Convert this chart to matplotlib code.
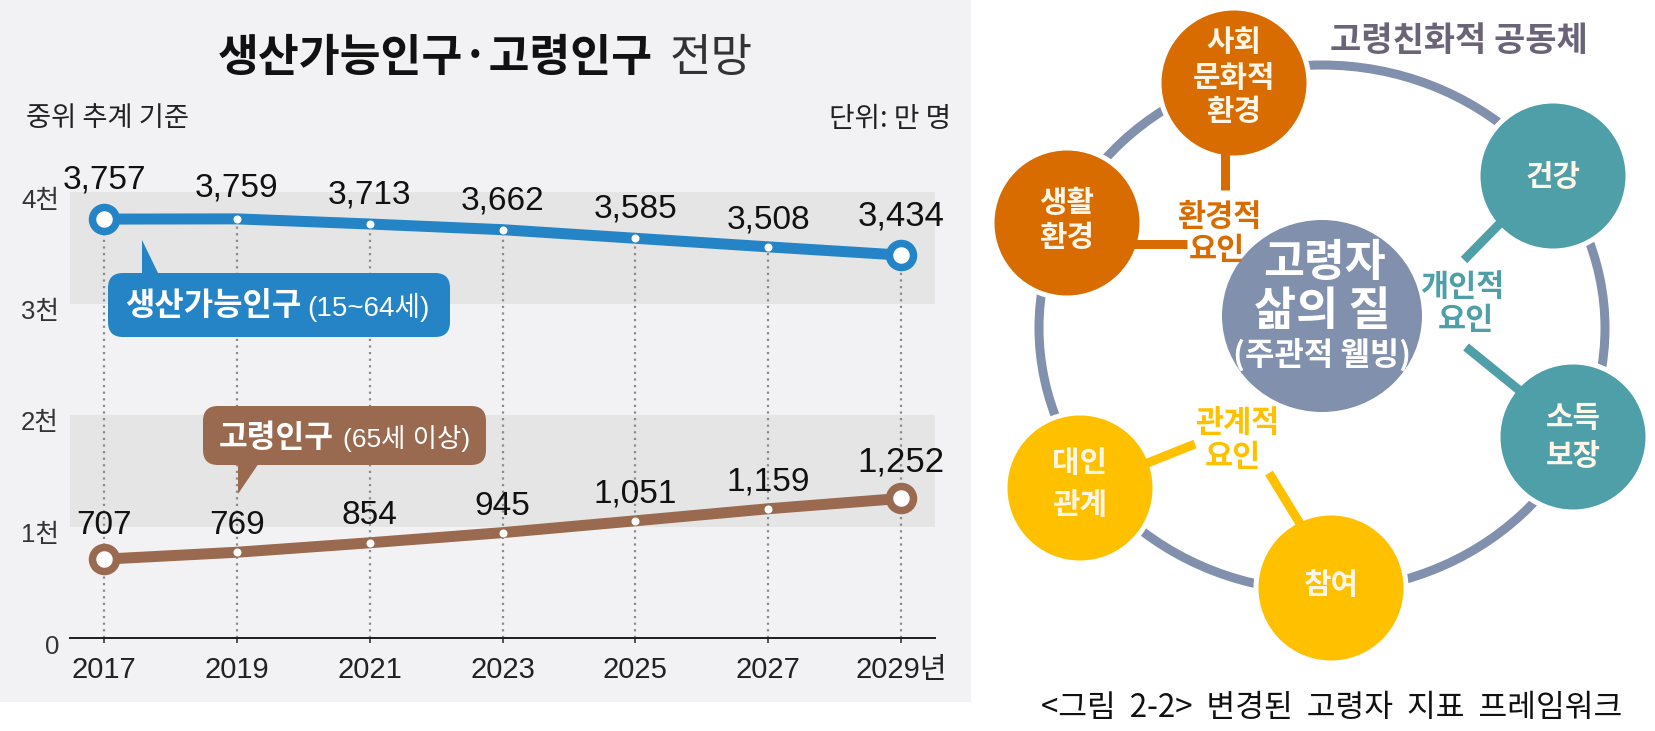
import matplotlib
matplotlib.use('Agg')
import matplotlib.pyplot as plt
from matplotlib.patches import Rectangle, FancyBboxPatch, Polygon, Ellipse
from matplotlib.transforms import ScaledTranslation

KR = 'Noto Sans CJK KR'
plt.rcParams['font.family'] = [KR, 'DejaVu Sans']
NUM = ['Liberation Sans', KR]

years = [2017, 2019, 2021, 2023, 2025, 2027, 2029]
working_age = [3757, 3759, 3713, 3662, 3585, 3508, 3434]
elderly = [707, 769, 854, 945, 1051, 1159, 1252]
x_labels = ['2017', '2019', '2021', '2023', '2025', '2027', '2029년']
y_ticks = [0, 1000, 2000, 3000, 4000]
y_labels = ['0', '1천', '2천', '3천', '4천']

BLUE = '#2484c6'
BROWN = '#9a6a50'
PANEL = '#f2f2f4'
BAND = '#e5e5e5'
RING = '#8090ad'
ORANGE = '#d96c00'
TEAL = '#4f9fa8'
YELLOW = '#ffc000'

W, H = 1656, 731


def pt(px):
    return px * 0.72


fig = plt.figure(figsize=(W / 100, H / 100), dpi=100, facecolor='white')

# background panel of the left chart
bg = fig.add_axes([0, 0, 1, 1], zorder=0)
bg.set_xlim(0, W)
bg.set_ylim(H, 0)
bg.axis('off')
bg.add_patch(Rectangle((0, 0), 971, 702, fc=PANEL, ec='none'))

# line chart, axes placed on the pixel box of the original
ax = fig.add_axes([70 / W, 1 - 638 / H, 865 / W, 446 / H], zorder=1)
ax.patch.set_alpha(0)
ax.set_xlim(2017 - 34 / 66.4, 2029 + 34 / 66.4)
ax.set_ylim(0, 4000)
for s in ['top', 'left', 'right']:
    ax.spines[s].set_visible(False)
ax.spines['bottom'].set_linewidth(pt(2))
ax.spines['bottom'].set_color('#222222')
ax.axhspan(3000, 4000, color=BAND, lw=0, zorder=0)
ax.axhspan(1000, 2000, color=BAND, lw=0, zorder=0)
ax.vlines(years, 0, working_age, color='#8a8a8a', lw=pt(2.2), linestyles=(0, (1, 2)), zorder=1)

ax.plot(years, working_age, color=BLUE, lw=pt(11), solid_capstyle='round', zorder=2)
ax.plot(years, elderly, color=BROWN, lw=pt(11), solid_capstyle='round', zorder=2)
for series, col in [(working_age, BLUE), (elderly, BROWN)]:
    ax.plot(years[1:-1], series[1:-1], 'o', ms=pt(8), mfc='white', mec='none', zorder=3)
    ax.plot([years[0], years[-1]], [series[0], series[-1]], 'o', ms=pt(24), mfc='white',
            mec=col, mew=pt(7.5), zorder=3)

up_off = [39, 31, 29, 29, 29, 27, 39]
low_off = [34, 27, 27, 26, 27, 27, 36]
for x, v, o in zip(years, working_age, up_off):
    ax.annotate(f'{v:,}', (x, v), xytext=(0, pt(o)), textcoords='offset points', ha='center',
                va='center', family=NUM, fontsize=25 if x == 2029 else 24, color='#111111', zorder=4)
for x, v, o in zip(years, elderly, low_off):
    ax.annotate(f'{v:,}', (x, v), xytext=(0, pt(o)), textcoords='offset points', ha='center',
                va='center', family=NUM, fontsize=25 if x == 2029 else 24, color='#111111', zorder=4)

ax.set_xticks(years)
ax.set_xticklabels(x_labels, family=NUM, fontsize=21, color='#222222')
ax.set_yticks(y_ticks)
ax.set_yticklabels(y_labels, family=NUM, fontsize=18.5, color='#333333')
ax.tick_params(axis='x', length=pt(5), width=pt(1.5), pad=pt(13), color='#222222')
ax.tick_params(axis='y', length=0, pad=pt(11))
for lab in ax.get_yticklabels():
    lab.set_transform(lab.get_transform() + ScaledTranslation(0, -6 / 100, fig.dpi_scale_trans))

# everything else is laid out in image pixels
px = fig.add_axes([0, 0, 1, 1], zorder=2)
px.set_xlim(0, W)
px.set_ylim(H, 0)
px.axis('off')
px.patch.set_alpha(0)

px.text(218, 58, '생산가능인구·고령인구', fontsize=32, fontweight='bold', ha='left', va='center', color='#111111')
px.text(670, 58, '전망', fontsize=32.5, ha='left', va='center', color='#333333')
px.text(26, 119, '중위 추계 기준', fontsize=19.7, ha='left', va='center', color='#222222')
px.text(951, 119, '단위: 만 명', fontsize=20, ha='right', va='center', color='#222222')

# callouts
px.add_patch(Polygon([(142, 240), (142, 275), (159, 275)], fc=BLUE, ec='none'))
px.add_patch(FancyBboxPatch((123, 288), 312, 34, boxstyle='round,pad=15,rounding_size=15', fc=BLUE, ec='none'))
px.text(125, 306, '생산가능인구', fontsize=23, fontweight='bold', color='white', ha='left', va='center')
px.text(307, 307, '(15~64세)', fontsize=20, color='white', ha='left', va='center', family=NUM)

px.add_patch(Polygon([(238, 494), (238, 463), (259, 463)], fc=BROWN, ec='none'))
px.add_patch(FancyBboxPatch((218, 421), 253, 29, boxstyle='round,pad=15,rounding_size=15', fc=BROWN, ec='none'))
px.text(219, 438, '고령인구', fontsize=22.5, fontweight='bold', color='white', ha='left', va='center')
px.text(343, 439, '(65세 이상)', fontsize=19, color='white', ha='left', va='center', family=NUM)

# right diagram
px.add_patch(Ellipse((1322, 328), 566, 526, fc='none', ec=RING, lw=pt(9)))

stems = [((1225, 140), (1225, 190), ORANGE), ((1120, 244), (1187, 244), ORANGE),
         ((1515, 208), (1464, 260), TEAL), ((1466, 347), (1535, 403), TEAL),
         ((1130, 470), (1195, 444), YELLOW), ((1269, 473), (1310, 540), YELLOW)]
for a, b, c in stems:
    px.plot([a[0], b[0]], [a[1], b[1]], color=c, lw=pt(9), solid_capstyle='butt', zorder=3.5)

nodes = [(1234, 83, ORANGE, ['사회', '문화적', '환경'], [42, 78, 112]),
         (1067, 223, ORANGE, ['생활', '환경'], [203, 238]),
         (1553, 176, TEAL, ['건강'], [177]),
         (1573, 437, TEAL, ['소득', '보장'], [418, 456]),
         (1331, 588, YELLOW, ['참여'], [585]),
         (1080, 488, YELLOW, ['대인', '관계'], [463, 505])]
for cx, cy, c, lines, ys in nodes:
    px.add_patch(Ellipse((cx, cy), 150, 150, fc=c, ec='white', lw=pt(5), zorder=3))
    for t, y in zip(lines, ys):
        px.text(cx, y, t, fontsize=21.5, fontweight='bold', color='#fff6e8', ha='center', va='center', zorder=4)

px.add_patch(Ellipse((1322, 316), 200, 192, fc=RING, ec='none', zorder=3))
px.text(1324, 263, '고령자', fontsize=32, fontweight='bold', color='white', ha='center', va='center', zorder=4)
px.text(1322, 312, '삶의 질', fontsize=33, fontweight='bold', color='white', ha='center', va='center', zorder=4)
px.text(1322, 355, '(주관적 웰빙)', fontsize=23, fontweight='bold', color='white', ha='center', va='center', zorder=4)

side = [(1219, 217, '환경적', ORANGE), (1217, 250, '요인', ORANGE),
        (1462, 287, '개인적', TEAL), (1466, 320, '요인', TEAL),
        (1237, 423, '관계적', YELLOW), (1233, 457, '요인', YELLOW)]
for x, y, t, c in side:
    px.text(x, y, t, fontsize=22, fontweight='bold', color=c, ha='center', va='center', zorder=4)

px.text(1459, 41, '고령친화적 공동체', fontsize=24.5, fontweight='bold', color='#6b6478', ha='center', va='center')
px.text(1332, 708, '<그림  2-2>  변경된  고령자  지표  프레임워크', fontsize=22.5, color='#111111', ha='center', va='center')

fig.savefig('out.png', dpi=100)
